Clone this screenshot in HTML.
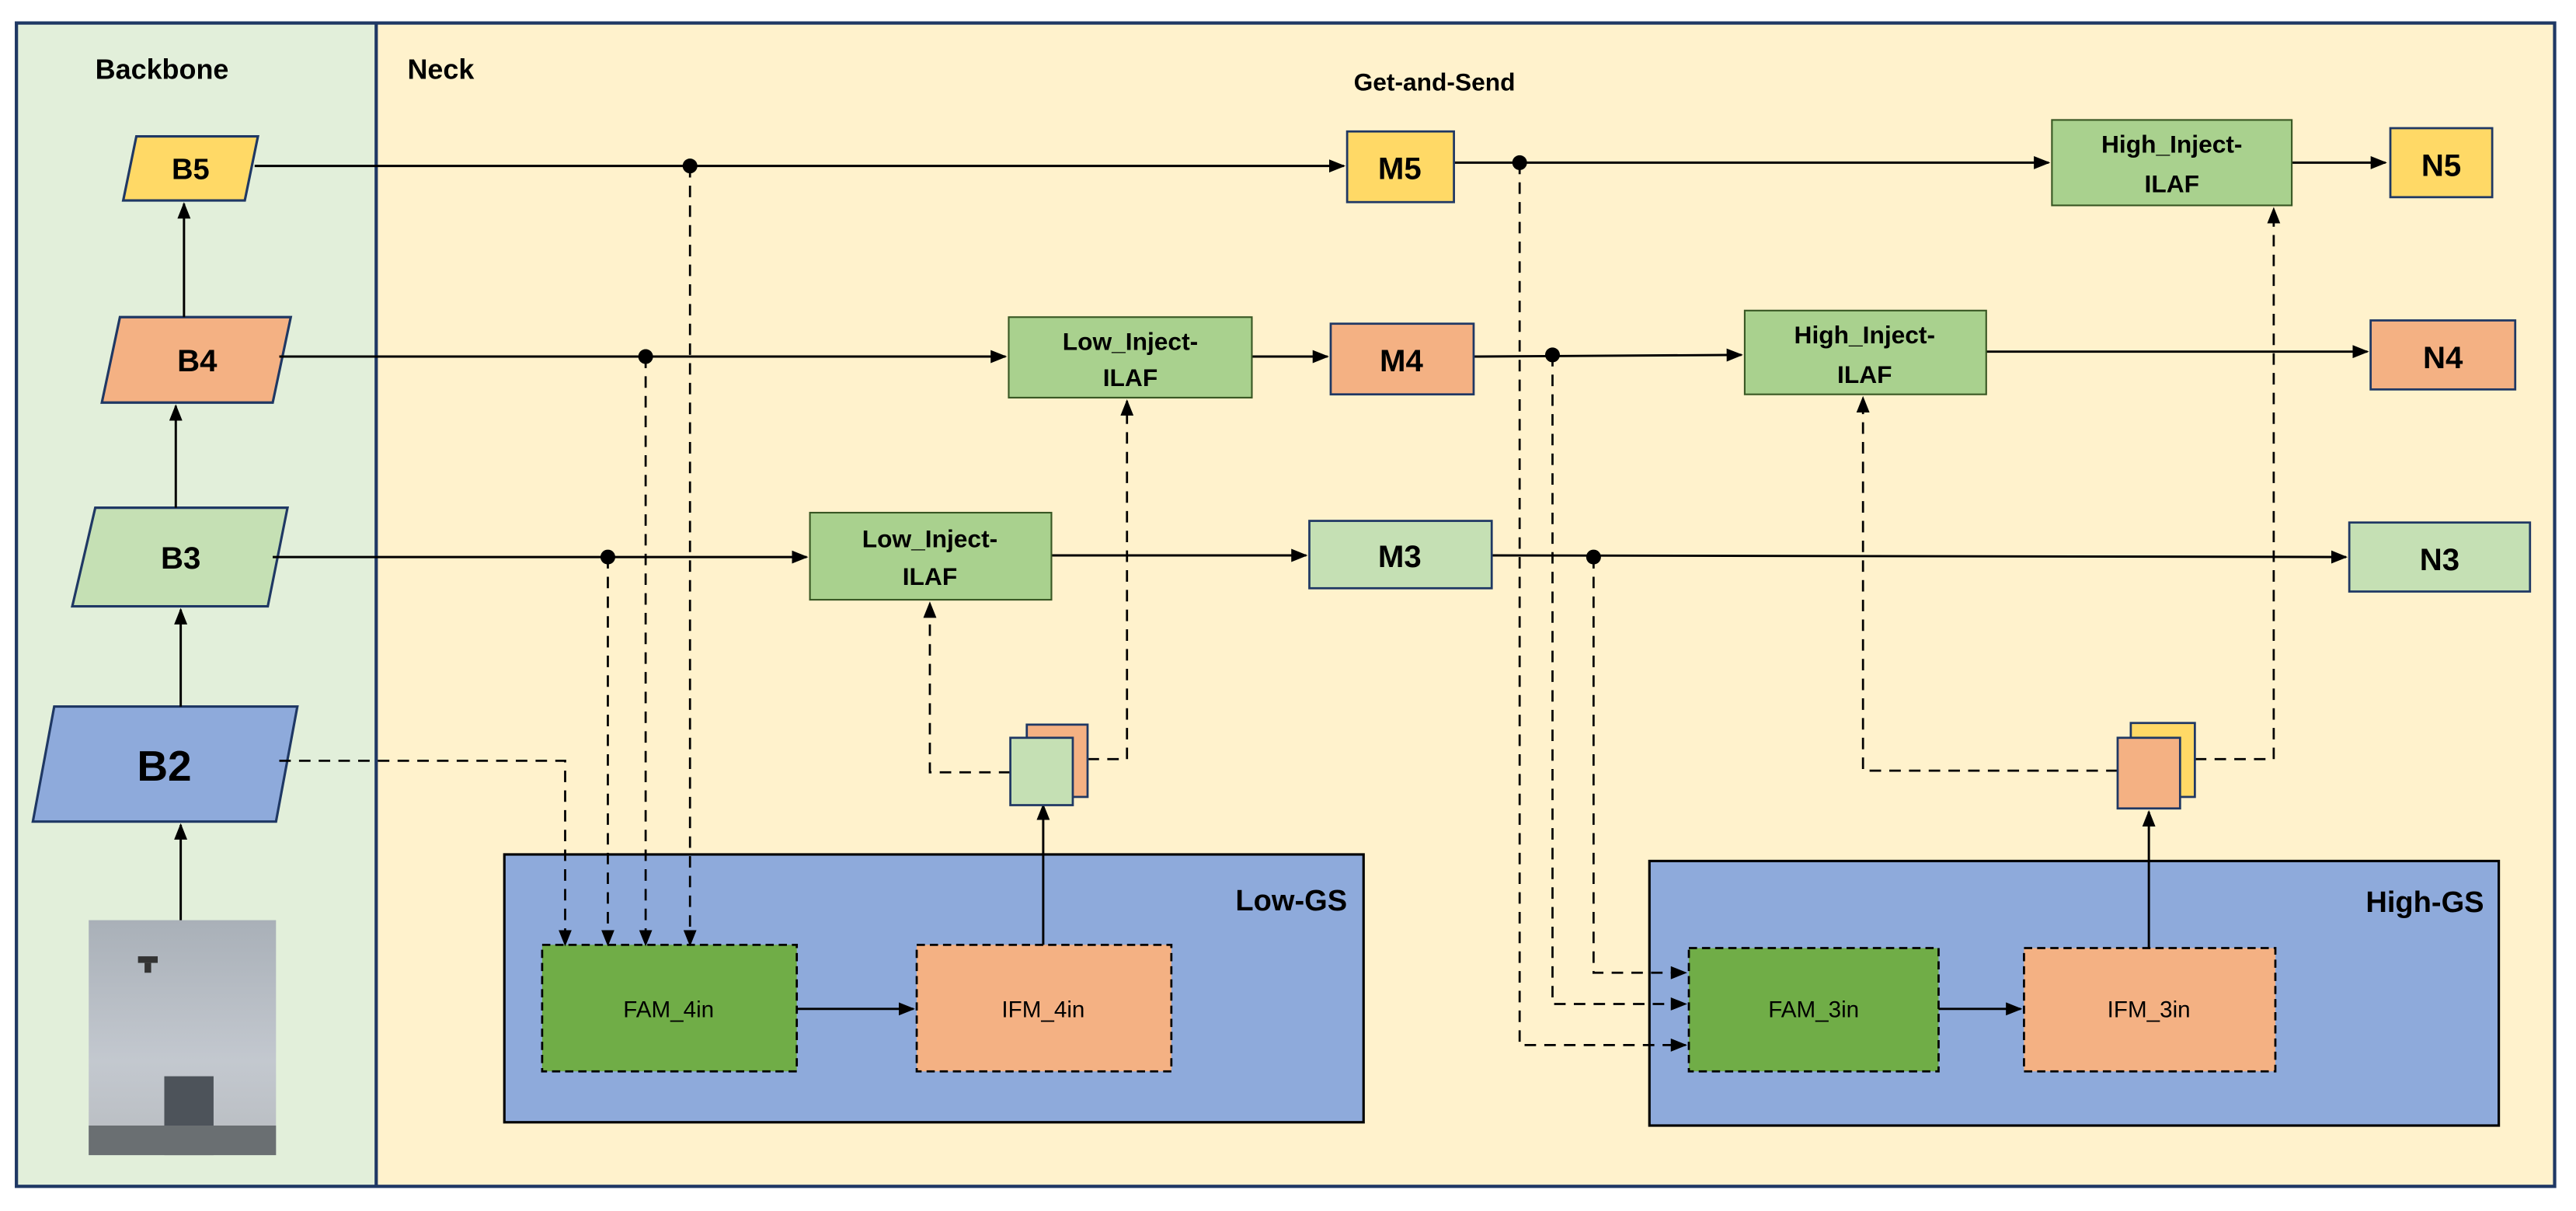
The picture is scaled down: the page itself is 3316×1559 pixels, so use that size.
<!DOCTYPE html>
<html><head><meta charset="utf-8"><style>
html,body{margin:0;padding:0;background:#fff}
svg{display:block}
text{font-family:"Liberation Sans",sans-serif;fill:#000}
</style></head><body>
<svg width="3316" height="1559" viewBox="0 0 1568 737" preserveAspectRatio="none" xmlns="http://www.w3.org/2000/svg">
<defs>
<marker id="a" markerWidth="10" markerHeight="8" refX="9" refY="4" orient="auto" markerUnits="userSpaceOnUse"><path d="M0,0 L10,4 L0,8z" fill="#000"/></marker>
<linearGradient id="sky" x1="0" y1="0" x2="0" y2="1"><stop offset="0" stop-color="#a9b0b8"/><stop offset="0.6" stop-color="#c3c8cf"/><stop offset="1" stop-color="#b8bcc0"/></linearGradient>
</defs>
<rect x="10" y="14" width="219" height="708" fill="#e2efda"/>
<rect x="229" y="14" width="1326" height="708" fill="#fff2cc"/>
<rect x="10" y="14" width="1545" height="708" fill="none" stroke="#1f3864" stroke-width="2"/>
<line x1="229" y1="14" x2="229" y2="722" stroke="#1f3864" stroke-width="2"/>
<text x="58" y="48" font-size="17" font-weight="bold">Backbone</text>
<text x="248" y="48" font-size="17" font-weight="bold">Neck</text>
<text x="824" y="55" font-size="15" font-weight="bold">Get-and-Send</text>

<rect x="307" y="520" width="523" height="163" fill="#8eaadb" stroke="#000" stroke-width="1.5"/>
<rect x="1004" y="524" width="517" height="161" fill="#8eaadb" stroke="#000" stroke-width="1.5"/>
<text x="820" y="554" font-size="18" font-weight="bold" text-anchor="end">Low-GS</text>
<text x="1512" y="555" font-size="18" font-weight="bold" text-anchor="end">High-GS</text>
<g stroke="#000" stroke-width="1.3" stroke-dasharray="5,3">
<rect x="330" y="575" width="155" height="77" fill="#70ad47"/>
<rect x="558" y="575" width="155" height="77" fill="#f4b183"/>
<rect x="1028" y="577" width="152" height="75" fill="#70ad47"/>
<rect x="1232" y="577" width="153" height="75" fill="#f4b183"/>
</g>
<g font-size="14" text-anchor="middle">
<text x="407" y="619">FAM_4in</text><text x="635" y="619">IFM_4in</text>
<text x="1104" y="619">FAM_3in</text><text x="1308" y="619">IFM_3in</text>
</g>

<g stroke="#1f3864" stroke-width="1.5">
<polygon points="83,83 157,83 149,122 75,122" fill="#ffd966"/>
<polygon points="73,193 177,193 166,245 62,245" fill="#f4b183"/>
<polygon points="58,309 175,309 163,369 44,369" fill="#c5e0b4"/>
<polygon points="33,430 181,430 168,500 20,500" fill="#8eaadb"/>
</g>
<g font-weight="bold" text-anchor="middle">
<text x="116" y="109" font-size="18">B5</text>
<text x="120" y="226" font-size="19">B4</text>
<text x="110" y="346" font-size="19">B3</text>
<text x="100" y="475" font-size="26">B2</text>
</g>
<rect x="54" y="560" width="114" height="143" fill="url(#sky)"/>
<rect x="100" y="655" width="30" height="48" fill="#4d535a"/>
<rect x="54" y="685" width="114" height="18" fill="#6a6f72"/>
<g fill="#333"><rect x="84" y="582" width="12" height="4"/><rect x="88" y="586" width="4" height="6"/></g>

<g stroke="#000" stroke-width="1.4" fill="none" marker-end="url(#a)">
<line x1="110" y1="560" x2="110" y2="502"/>
<line x1="110" y1="430" x2="110" y2="371"/>
<line x1="107" y1="309" x2="107" y2="247"/>
<line x1="112" y1="193" x2="112" y2="124"/>
<line x1="155" y1="101" x2="818" y2="101"/>
<line x1="885" y1="99" x2="1247" y2="99"/>
<line x1="1395" y1="99" x2="1452" y2="99"/>
<line x1="170" y1="217" x2="612" y2="217"/>
<line x1="762" y1="217" x2="808" y2="217"/>
<line x1="897" y1="217" x2="1060" y2="216"/>
<line x1="1209" y1="214" x2="1441" y2="214"/>
<line x1="166" y1="339" x2="491" y2="339"/>
<line x1="640" y1="338" x2="795" y2="338"/>
<line x1="908" y1="338" x2="1428" y2="339"/>
<line x1="485" y1="614" x2="556" y2="614"/>
<line x1="1180" y1="614" x2="1230" y2="614"/>
<line x1="635" y1="575" x2="635" y2="490"/>
<line x1="1308" y1="577" x2="1308" y2="494"/>
</g>
<g stroke="#000" stroke-width="1.3" fill="none" stroke-dasharray="7,5" marker-end="url(#a)">
<polyline points="170,463 344,463 344,575"/>
<line x1="370" y1="339" x2="370" y2="575"/>
<line x1="393" y1="217" x2="393" y2="575"/>
<line x1="420" y1="101" x2="420" y2="575"/>
<polyline points="615,470 566,470 566,367"/>
<polyline points="662,462 686,462 686,244"/>
<polyline points="970,339 970,592 1026,592"/>
<polyline points="945,216 945,611 1026,611"/>
<polyline points="925,99 925,636 1026,636"/>
<polyline points="1289,469 1134,469 1134,242"/>
<polyline points="1336,462 1384,462 1384,127"/>
</g>
<g fill="#000"><circle cx="420" cy="101" r="4.5"/><circle cx="393" cy="217" r="4.5"/><circle cx="370" cy="339" r="4.5"/><circle cx="925" cy="99" r="4.5"/><circle cx="945" cy="216" r="4.5"/><circle cx="970" cy="339" r="4.5"/></g>

<g stroke="#1f3864" stroke-width="1.3">
<rect x="820" y="80" width="65" height="43" fill="#ffd966"/>
<rect x="810" y="197" width="87" height="43" fill="#f4b183"/>
<rect x="797" y="317" width="111" height="41" fill="#c5e0b4"/>
<rect x="1455" y="78" width="62" height="42" fill="#ffd966"/>
<rect x="1443" y="195" width="88" height="42" fill="#f4b183"/>
<rect x="1430" y="318" width="110" height="42" fill="#c5e0b4"/>
</g>
<g stroke="#385723" stroke-width="1" fill="#a9d18e">
<rect x="614" y="193" width="148" height="49"/>
<rect x="493" y="312" width="147" height="53"/>
<rect x="1249" y="73" width="146" height="52"/>
<rect x="1062" y="189" width="147" height="51"/>
</g>
<g font-weight="bold" text-anchor="middle">
<text x="852" y="109" font-size="19">M5</text>
<text x="853" y="226" font-size="19">M4</text>
<text x="852" y="345" font-size="19">M3</text>
<text x="1486" y="107" font-size="19">N5</text>
<text x="1487" y="224" font-size="19">N4</text>
<text x="1485" y="347" font-size="19">N3</text>
<g font-size="15">
<text x="688" y="213">Low_Inject-</text><text x="688" y="235">ILAF</text>
<text x="566" y="333">Low_Inject-</text><text x="566" y="356">ILAF</text>
<text x="1322" y="93">High_Inject-</text><text x="1322" y="117">ILAF</text>
<text x="1135" y="209">High_Inject-</text><text x="1135" y="233">ILAF</text>
</g></g>

<g stroke="#1f3864" stroke-width="1.3">
<rect x="625" y="441" width="37" height="44" fill="#f4b183"/>
<rect x="615" y="449" width="38" height="41" fill="#c5e0b4"/>
<rect x="1297" y="440" width="39" height="45" fill="#ffd966"/>
<rect x="1289" y="449" width="38" height="43" fill="#f4b183"/>
</g>
</svg>
</body></html>
